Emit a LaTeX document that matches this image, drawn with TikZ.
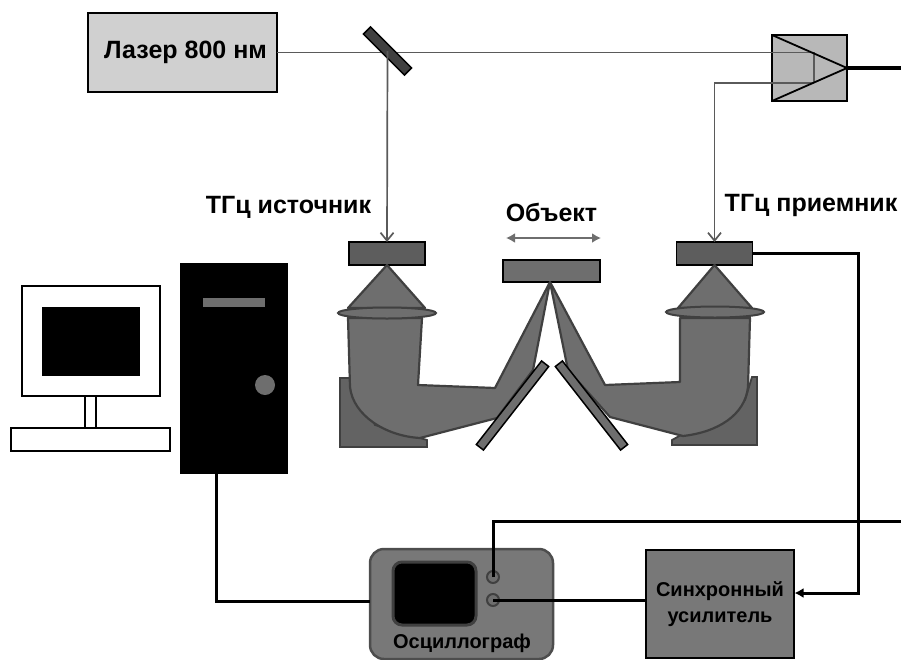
\documentclass[tikz,border=0pt]{standalone}
\usepackage{fontspec}
\setmainfont{Liberation Sans}
\usepackage{xcolor}
\usepackage{tikz}
\usetikzlibrary{arrows.meta,shapes.geometric}
\definecolor{optgray}{HTML}{6E6E6E}
\definecolor{optdark}{HTML}{404040}
\definecolor{boxlight}{HTML}{D0D0D0}
\definecolor{boxmid}{HTML}{B8B8B8}
\definecolor{boxgray}{HTML}{787878}
\definecolor{beamgray}{HTML}{5A5A5A}

\begin{document}
\begin{tikzpicture}[x=1pt,y=-1pt,>=Latex,font=\bfseries]
\tikzset{
plain/.style={draw=black,inner sep=0pt,outer sep=0pt},
laserbox/.style={plain,line width=1.5pt,fill=boxlight,minimum width=189pt,minimum height=79pt},
ampbox/.style={plain,line width=1.6pt,fill=boxmid,minimum width=75pt,minimum height=66pt},
antenna/.style={plain,line width=1.5pt,fill=optdark!85!white,minimum width=76pt,minimum height=23pt},
lens/.style={ellipse,draw=optdark,line width=2pt,fill=optgray,inner sep=0pt,minimum width=98pt,minimum height=11pt},
mirror/.style={plain,line width=1.5pt,fill=optgray,minimum height=9pt},
label/.style={inner sep=0pt,text=black,font=\bfseries\fontsize{25}{28}\selectfont},
beam/.style={draw=beamgray,line width=1.7pt},
tip/.style={beam,-{Straight Barb[length=8pt,width=13pt]}},
cable/.style={draw=black,line width=3pt},
optic/.style={draw=optdark,line width=2.2pt,fill=optgray,line join=round},
plate/.style={draw=optdark,line width=1.8pt,fill=optgray!90!black}}
\useasboundingbox (0,0) rectangle (901,659);

\node[laserbox,font=\bfseries\fontsize{25}{28}\selectfont] (laser) at (182.5,52.5) {\hspace*{6pt}Лазер 800 нм};
\node[ampbox] (amp) at (809.5,68) {};
\coordinate (ampup) at (814,53);
\coordinate (ampdown) at (814,83);
\coordinate (exitup) at (901,68);
\coordinate (exitdown) at (901,521);

\draw[beam] (laser.east) -- (laser.east -| ampup) -- (ampup);
\node[mirror,minimum width=58pt,minimum height=10pt,rotate=-45,fill=optdark] (splitter) at (387.5,51) {};

\node[antenna] (source) at (387,253.5) {};
\node[antenna] (receiver) at (714.5,253.5) {};
\node[plain,line width=1.5pt,fill=optgray,minimum width=97pt,minimum height=22pt] (object) at (551.5,271) {};

\draw[tip] (splitter.center) -- (source.north);
\draw[tip] (ampdown) -| (receiver.north);
\draw[beam] (ampup) -- (ampdown);
\draw[line width=1.8pt] (amp.north west) -- (amp.east) -- (amp.south west);
\draw[cable,line width=3.6pt] (amp.east) -- (exitup);

\node[label] (sourcetext) at (288.5,207) {ТГц источник};
\node[label] (objecttext) at (551.5,212) {Объект};
\node[label] (receivertext) at (811,205) {ТГц приемник};
\coordinate (objleft) at (506,238);
\coordinate (objright) at (601,238);
\draw[{Latex[length=9pt,width=10pt]}-{Latex[length=9pt,width=10pt]},draw=optgray,line width=2.6pt] (objleft) -- (objright);

% left arm
\draw[plate] (340,378) -- (352,378) -- (375,425) -- (427,440) -- (427,447) -- (340,447) -- cycle;
\draw[optic] (348,318) -- (350,387) .. controls (353,415) and (385,436) .. (420,438)
  -- (497,418) -- (533,370) -- (550,282) -- (495,388) -- (418,385) -- (422,318) -- cycle;
\draw[optic] (source.south) -- (348,308) -- (425,308) -- cycle;
\node[lens] (lensleft) at (387,313) {};
\node[mirror,minimum width=106pt,rotate=52] (mirrorleft) at (512.5,405.5) {};

% right arm
\draw[plate] (672,445) -- (672,440) -- (745,400) -- (752,377) -- (757,377) -- (757,445) -- cycle;
\draw[optic] (680,318) -- (680,382) -- (605,385) -- (550,282) -- (568,370) -- (610,417)
  -- (683,436) .. controls (718,432) and (745,415) .. (748,387) -- (750,318) -- cycle;
\draw[optic] (receiver.south) -- (678,308) -- (752,308) -- cycle;
\node[lens] (lensright) at (715,312) {};
\node[mirror,minimum width=106pt,rotate=-52] (mirrorright) at (591.5,405.5) {};

% computer
\node[plain,line width=1.6pt,minimum width=138pt,minimum height=110pt] (monitor) at (91,341) {};
\node[plain,fill=black,minimum width=97pt,minimum height=68pt] (display) at (90.5,341) {};
\node[plain,line width=1.6pt,minimum width=11pt,minimum height=32pt] (neck) at (90.5,412) {};
\node[plain,line width=1.6pt,minimum width=159pt,minimum height=23pt] (stand) at (90.5,439.5) {};
\node[plain,fill=black,minimum width=107pt,minimum height=210pt] (tower) at (233.5,368.5) {};
\node[inner sep=0pt,fill=optgray,minimum width=62pt,minimum height=9pt] (drive) at (234,302.5) {};
\node[circle,inner sep=0pt,fill=optgray,minimum size=20pt] (power) at (265,385) {};

% scope and lock-in
\node[plain,draw=optgray!70!black,line width=2.5pt,rounded corners=14pt,fill=boxgray,minimum width=183pt,minimum height=110pt] (scope) at (461.5,604) {};
\node[plain,draw=optdark,line width=3pt,rounded corners=9pt,fill=black,minimum width=83pt,minimum height=63pt] (screen) at (434.5,593.5) {};
\node[circle,inner sep=0pt,draw=optdark,line width=2pt,fill=optgray,minimum size=12pt] (knobtop) at (493,577) {};
\node[circle,inner sep=0pt,draw=optdark,line width=2pt,fill=optgray,minimum size=12pt] (knobbottom) at (493,600) {};
\node[inner sep=0pt,font=\bfseries\fontsize{20}{24}\selectfont] (scopetext) at (462,643) {Осциллограф};
\node[plain,line width=1.5pt,fill=boxgray,minimum width=148pt,minimum height=108pt,align=center,font=\bfseries\fontsize{20}{26}\selectfont] (lockin) at (720,604) {Синхронный\\усилитель};

\coordinate (pcout) at (216,473);
\coordinate (scopein) at (370,601);
\coordinate (lockinin) at (794.5,593);
\draw[cable] (pcout) |- (scopein);
\draw[cable] (knobbottom.center) -- (knobbottom.center -| lockin.west);
\draw[cable] (knobtop.center) |- (exitdown);
\draw[cable,-{Latex[length=9pt,width=10pt]}] (receiver.east) -- ++(106,0) |- (lockinin);
\end{tikzpicture}
\end{document}
